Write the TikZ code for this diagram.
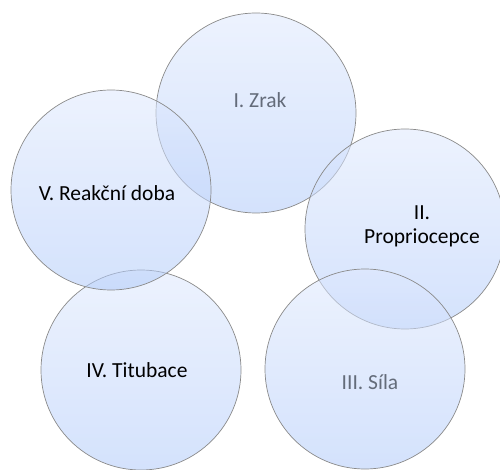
\documentclass[tikz,border=0pt]{standalone}
\usepackage{fontspec}
\setmainfont{Carlito}
\begin{document}
\begin{tikzpicture}[x=1pt,y=-1pt,
  bubble/.style={circle,draw=bubbleedge,line width=0.7pt,minimum size=200pt,inner sep=0pt,
    top color=bubbletop,bottom color=bubblebot,fill opacity=0.55,draw opacity=1},
  dark/.style={font=\fontsize{21.5}{24}\selectfont,text=black,align=center},
  soft/.style={font=\fontsize{21.5}{24}\selectfont,text=softtext,align=center}]
\definecolor{bubbleedge}{HTML}{8A8A8A}
\definecolor{bubbletop}{HTML}{DEE8FD}
\definecolor{bubblebot}{HTML}{B0CAFA}
\definecolor{softtext}{HTML}{646C7A}
\useasboundingbox (0,0) rectangle (500,470);
% five overlapping translucent circles
\node[bubble] (zrak)   at (256,113) {};
\node[bubble] (prop)   at (405,229) {};
\node[bubble] (sila)   at (365,369) {};
\node[bubble] (titub)  at (141,370) {};
\node[bubble] (reakce) at (111,190) {};
% labels
\node[soft] (tzrak)   at (260,100) {I. Zrak};
\node[dark] (tprop)   at (422,226) {II.\\Propriocepce};
\node[soft] (tsila)   at (370,382) {III. Síla};
\node[dark] (ttitub)  at (137,370) {IV. Titubace};
\node[dark] (treakce) at (107,193) {V. Reakční doba};
\end{tikzpicture}
\end{document}
